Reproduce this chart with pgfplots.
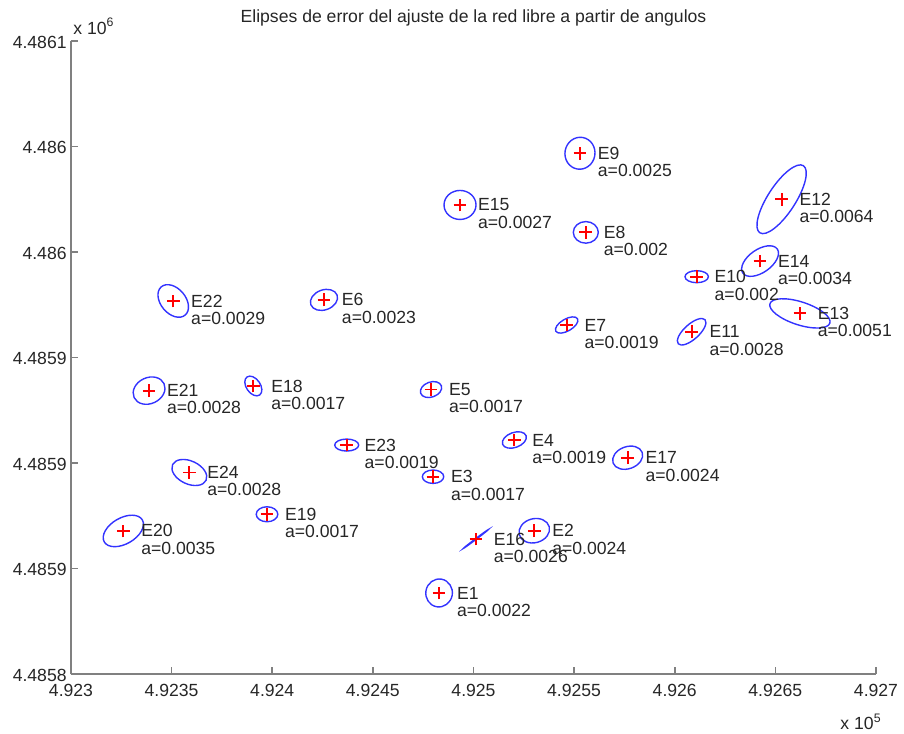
\documentclass[border=0pt]{standalone}
\usepackage{fontspec}
\setmainfont{Liberation Sans}
\usepackage{pgfplots}
\usepackage{pgfplotstable}
\pgfplotsset{compat=1.18}

% exact offset of UTM coordinates (avoids loss of precision in the FPU)
\makeatletter
\def\utmoffset#1#2{\edef\utm@tmp{#1}\expandafter\utm@split\utm@tmp..\relax{#2}}
\def\utm@split#1.#2.#3\relax#4{%
  \ifx\relax#3\relax
    \edef\pgfmathresult{\utm@tmp}%
  \else
    \edef\pgfmathresult{\the\numexpr#1-#4\relax.#20}%
  \fi}
\makeatother

\definecolor{txt}{gray}{0.15}
\definecolor{axgray}{gray}{0.5}
\definecolor{ellblue}{rgb}{0.2,0.2,1}
\definecolor{markred}{rgb}{1,0,0}

% station mark: error ellipse (semi-axes \erx, \ery in pt, rotation \eang) and red cross
\pgfdeclareplotmark{errell}{%
  \pgfsetstrokecolor{ellblue}%
  \pgfsetlinewidth{0.7pt}%
  \pgfpathellipse{\pgfpointorigin}%
    {\pgfpointpolar{\eang}{\erx pt}}%
    {\pgfpointpolar{\eang+90}{\ery pt}}%
  \pgfusepathqstroke
  \pgfsetstrokecolor{markred}%
  \pgfsetlinewidth{0.9pt}%
  \pgfpathmoveto{\pgfqpoint{-3.2pt}{0pt}}\pgfpathlineto{\pgfqpoint{3.2pt}{0pt}}%
  \pgfpathmoveto{\pgfqpoint{0pt}{-3.2pt}}\pgfpathlineto{\pgfqpoint{0pt}{3.2pt}}%
  \pgfusepathqstroke}

\newcommand\lbl{\fontsize{8.8}{10.5}\selectfont}

% x, y: station coordinates; rx, ry: semi-axes of the drawn ellipse (pt); ang: rotation (deg)
\pgfplotstableread{
x y rx ry ang name aval
492482.9 4485838.4 7.0 6.65 80 E1 0.0022
492530.2 4485867.9 7.75 6.0 15 E2 0.0024
492479.9 4485893.5 5.35 3.35 0 E3 0.0017
492520.3 4485910.9 6.25 3.75 20 E4 0.0019
492478.9 4485934.8 5.5 3.75 20 E5 0.0017
492425.7 4485977.3 7.0 5.0 20 E6 0.0023
492546.3 4485965.4 6.25 3.0 30 E7 0.0019
492555.8 4486009.3 6.25 5.4 0 E8 0.002
492552.9 4486046.8 8.0 7.5 80 E9 0.0025
492610.9 4485988.3 5.85 3.0 0 E10 0.002
492608.4 4485962.2 9.0 3.75 42 E11 0.0028
492653.1 4486025.0 20.0 6.9 57 E12 0.0064
492662.2 4485970.9 15.75 5.75 -18 E13 0.0051
492642.4 4485995.7 10.5 5.75 35 E14 0.0034
492493.3 4486022.3 8.0 7.25 0 E15 0.0027
492501.2 4485864.0 7.8 0.2 37 E16 0.0026
492576.6 4485902.5 7.75 5.5 20 E17 0.0024
492390.6 4485936.5 5.5 3.5 -55 E18 0.0017
492397.4 4485875.7 5.4 3.75 0 E19 0.0017
492326.0 4485867.8 11.0 6.5 30 E20 0.0035
492338.8 4485934.3 8.25 6.5 25 E21 0.0028
492350.8 4485976.8 9.25 6.25 -50 E22 0.0029
492437.0 4485908.5 6.0 3.0 0 E23 0.0019
492358.8 4485895.5 9.25 5.75 -25 E24 0.0028
}\stations

\begin{document}
\begin{tikzpicture}
\begin{axis}[
  scale only axis,
  width=402.5pt, height=316.5pt,
  x coord trafo/.code={\utmoffset{#1}{492300}},
  y coord trafo/.code={\utmoffset{#1}{4485800}},
  xmin=492300.0, xmax=492700.0,
  ymin=4485800.0, ymax=4486100.0,
  enlargelimits=false,
  clip=false,
  scaled ticks=false,
  axis lines=left,
  axis line style={-, draw=axgray, line width=1pt},
  tick align=inside,
  major tick length=3.5pt,
  major tick style={draw=axgray, line width=0.8pt},
  xtick={492300.0,492350.0,492400.0,492450.0,492500.0,492550.0,492600.0,492650.0,492700.0},
  xticklabels={4.923,4.9235,4.924,4.9245,4.925,4.9255,4.926,4.9265,4.927},
  ytick={4485800.0,4485850.0,4485900.0,4485950.0,4486000.0,4486050.0,4486100.0},
  yticklabels={4.4858,4.4859,4.4859,4.4859,4.486,4.486,4.4861},
  ticklabel style={font=\lbl, text=txt},
  xticklabel style={inner sep=0pt, yshift=-4.8pt},
  yticklabel style={inner sep=0pt, xshift=-2pt, yshift=-0.5pt},
  every axis title shift=0pt,
  title={Elipses de error del ajuste de la red libre a partir de angulos},
  title style={font=\lbl, text=txt, at={(0.5,1)}, anchor=center, yshift=11.5pt},
]
% error ellipses and station marks
\addplot[color=ellblue, only marks, mark=errell,
  visualization depends on={\thisrow{rx}\as\erx},
  visualization depends on={\thisrow{ry}\as\ery},
  visualization depends on={\thisrow{ang}\as\eang}]
  table[x=x, y=y]{\stations};
% labels
\addplot[draw=none, mark=none, nodes near coords, point meta=explicit symbolic,
  nodes near coords style={anchor=west, inner sep=0pt, xshift=8.8pt, font=\lbl, text=txt}]
  table[x=x, y=y, meta=name]{\stations};
\addplot[draw=none, mark=none, nodes near coords={a=\pgfplotspointmeta}, point meta=explicit symbolic,
  nodes near coords style={anchor=west, inner sep=0pt, xshift=8.8pt, yshift=-8.65pt, font=\lbl, text=txt}]
  table[x=x, y=y, meta=aval]{\stations};
\node[anchor=west, inner sep=0pt, font=\lbl, text=txt, xshift=1pt, yshift=7.5pt] at (rel axis cs:0,1) {x 10\textsuperscript{6}};
\node[anchor=east, inner sep=0pt, font=\lbl, text=txt, xshift=3pt, yshift=-23.9pt] at (rel axis cs:1,0) {x 10\textsuperscript{5}};
\coordinate (bl) at (rel axis cs:0,0);
\coordinate (tr) at (rel axis cs:1,1);
\end{axis}
\pgfresetboundingbox
\path[use as bounding box] ([xshift=-35.5pt,yshift=-29.5pt]bl) rectangle ([xshift=14pt,yshift=20.5pt]tr);
\end{tikzpicture}
\end{document}
